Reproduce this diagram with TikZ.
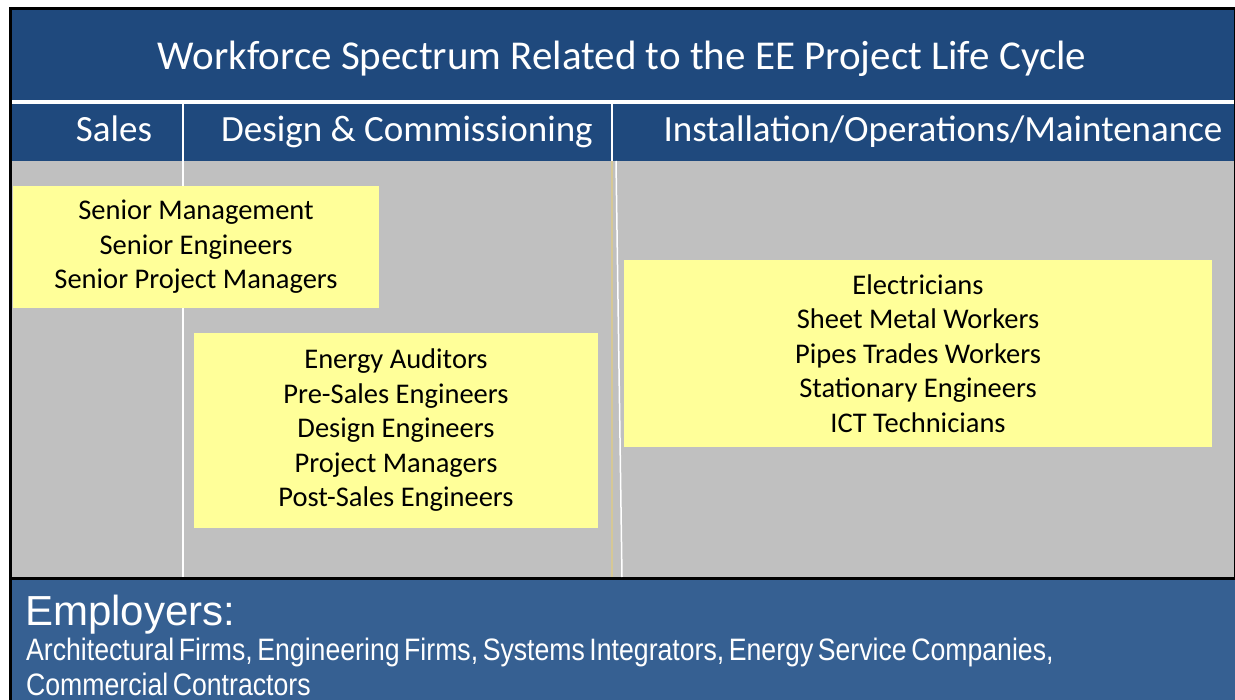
\documentclass[tikz,border=0pt]{standalone}
\usepackage{fontspec}
\setmainfont{Carlito}
\newfontfamily\arialfont{Liberation Sans}
\definecolor{titleblue}{RGB}{31,73,125}
\definecolor{empblue}{RGB}{54,96,146}
\definecolor{cellgrey}{RGB}{192,192,192}
\definecolor{boxyellow}{RGB}{255,255,153}
\definecolor{tanline}{RGB}{214,200,150}
\tikzset{
  headtext/.style={text=white,inner sep=0pt,anchor=base,font=\fontsize{37}{42}\selectfont},
  yellowbox/.style={fill=boxyellow,align=center,inner sep=0pt,font=\fontsize{28.5}{34.5}\selectfont},
  emptext/.style={text=white,anchor=base west,inner sep=0pt}
}
\newcommand{\firmfont}{\arialfont\fontsize{31}{36}\selectfont\spaceskip=0.17em plus 0.05em}
\begin{document}
\begin{tikzpicture}[x=1pt,y=-1pt]
        \useasboundingbox (0,0) rectangle (1235,700);
        \fill[white](0,0)rectangle(1235,700);
        % frame and bands
        \fill[black](9,7)rectangle(1235,700);
        \fill[titleblue](12,10)rectangle(1234,100);
        \fill[white](12,100)rectangle(1234,104);
        \fill[titleblue](12,104)rectangle(1234,161);
        \fill[cellgrey](12,161)rectangle(1234,577);
        \fill[empblue](12,580)rectangle(1235,700);
        % column separators
        \draw[white,line width=2pt](183,104)--(183,577);
        \draw[white,line width=2pt](612,104)--(612,161);
        \draw[tanline,line width=1.5pt](612,161)--(612,577);
        \draw[white,line width=1.5pt](616,161)--(622,577);
        % headings
        \node[headtext,font=\fontsize{41}{46}\selectfont] (title) at (622,70){Workforce Spectrum Related to the EE Project Life Cycle};
        \node[headtext] (sales) at (114,142){Sales};
        \node[headtext] (design) at (407,142){Design \& Commissioning};
        \node[headtext] (install) at (943,142){Installation/Operations/Maintenance};
        % job groups
        \node[yellowbox,minimum width=366pt,minimum height=122pt] (senior) at (196,247)
             {Senior Management\\Senior Engineers\\Senior Project Managers};
        \node[yellowbox,minimum width=404pt,minimum height=195pt] (engineers) at (396,430.5)
             {Energy Auditors\\Pre-Sales Engineers\\Design Engineers\\Project Managers\\Post-Sales Engineers};
        \node[yellowbox,minimum width=588pt,minimum height=187pt] (trades) at (918,353.5)
             {Electricians\\Sheet Metal Workers\\Pipes Trades Workers\\Stationary Engineers\\ICT Technicians};
        % employers
        \node[emptext,font=\arialfont\fontsize{42}{48}\selectfont] (employers) at (25,625){Employers:};
        \node[emptext,xscale=0.86,font=\firmfont] (firms) at (26,660)
             {Architectural Firms, Engineering Firms, Systems Integrators, Energy Service Companies,};
        \node[emptext,xscale=0.86,font=\firmfont] (contractors) at (26,695){Commercial Contractors};
\end{tikzpicture}
\end{document}
